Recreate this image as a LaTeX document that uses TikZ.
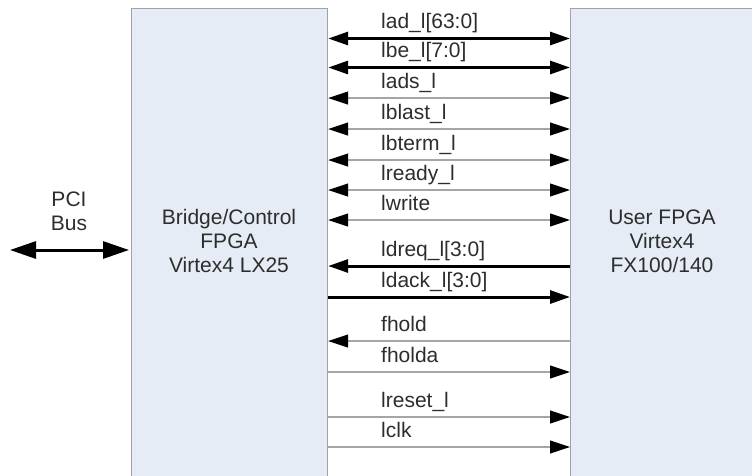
\documentclass[tikz,border=0pt]{standalone}
\usepackage{fontspec}
\setmainfont{Liberation Sans}
\usepackage{tikz}
\usetikzlibrary{arrows.meta}

\definecolor{boxfill}{RGB}{230,236,246}
\definecolor{boxline}{RGB}{160,162,168}
\definecolor{wiregray}{RGB}{165,165,165}
\definecolor{ink}{RGB}{45,45,45}

\tikzset{
    fpga/.style={draw=boxline, fill=boxfill, line width=1.2pt, inner sep=0pt},
    sig/.style={anchor=base west, inner sep=0pt, text=ink},
    words/.style={align=center, text=ink},
    slim/.style={draw=wiregray, line width=1.1pt},
    wide/.style={draw=black, line width=3pt}
}

\begin{document}
\begin{tikzpicture}[x=1pt, y=-1pt,
        >={Triangle[length=20pt,width=13pt,color=black]},
        font=\fontsize{21}{24}\selectfont]
        \useasboundingbox (0,0) rectangle (752,475);
        \clip (0,0) rectangle (752,475);

        % The two boxes
        \node[fpga, anchor=north west, minimum width=196pt, minimum height=500pt] (bridge) at (131,8) {};
        \node[fpga, anchor=north west, minimum width=220pt, minimum height=500pt] (user) at (570,8) {};

        % Box words
        \node[words] (bridgetxt) at (229,241) {Bridge/Control\\FPGA\\Virtex4 LX25};
        \node[words] (usertxt) at (662,241) {User FPGA\\Virtex4\\FX100/140};

        % The PCI bus
        \node[words] (pcitxt) at (69,211) {PCI\\Bus};
        \coordinate (pci) at (10,250);
        \draw[wide, <->, >={Triangle[length=26pt,width=17pt]}, shorten >=2pt] (pci) -- (bridge.west |- pci);

        % Wide lines, both ways
        \coordinate (lad) at (0,38.5);
        \coordinate (lbe) at (0,67.5);
        \draw[wide, <->] (bridge.east |- lad) -- (user.west |- lad);
        \draw[wide, <->] (bridge.east |- lbe) -- (user.west |- lbe);
        \node[sig] (ladtxt) at (381,28.5) {lad\_l[63:0]};
        \node[sig] (lbetxt) at (381,57.5) {lbe\_l[7:0]};

        % Slim lines, both ways
        \coordinate (lads) at (0,98);
        \coordinate (lblast) at (0,129);
        \coordinate (lbterm) at (0,160);
        \coordinate (lready) at (0,190);
        \coordinate (lwrite) at (0,220);
        \draw[slim, <->] (bridge.east |- lads) -- (user.west |- lads);
        \draw[slim, <->] (bridge.east |- lblast) -- (user.west |- lblast);
        \draw[slim, <->] (bridge.east |- lbterm) -- (user.west |- lbterm);
        \draw[slim, <->] (bridge.east |- lready) -- (user.west |- lready);
        \draw[slim, <->] (bridge.east |- lwrite) -- (user.west |- lwrite);
        \node[sig] (ladstxt) at (381,88) {lads\_l};
        \node[sig] (lblasttxt) at (381,119) {lblast\_l};
        \node[sig] (lbtermtxt) at (381,150) {lbterm\_l};
        \node[sig] (lreadytxt) at (381,180) {lready\_l};
        \node[sig] (lwritetxt) at (381,210) {lwrite};

        % Wide lines, one way
        \coordinate (ldreq) at (0,266);
        \coordinate (ldack) at (0,297);
        \draw[wide, <-] (bridge.east |- ldreq) -- (user.west |- ldreq);
        \draw[wide, ->] (bridge.east |- ldack) -- (user.west |- ldack);
        \node[sig] (ldreqtxt) at (381,256) {ldreq\_l[3:0]};
        \node[sig] (ldacktxt) at (381,287) {ldack\_l[3:0]};

        % Slim lines, one way
        \coordinate (fhold) at (0,341);
        \coordinate (fholda) at (0,372);
        \coordinate (lreset) at (0,417);
        \coordinate (lclk) at (0,447);
        \draw[slim, <-] (bridge.east |- fhold) -- (user.west |- fhold);
        \draw[slim, ->] (bridge.east |- fholda) -- (user.west |- fholda);
        \draw[slim, ->] (bridge.east |- lreset) -- (user.west |- lreset);
        \draw[slim, ->] (bridge.east |- lclk) -- (user.west |- lclk);
        \node[sig] (fholdtxt) at (381,331) {fhold};
        \node[sig] (fholdatxt) at (381,362) {fholda};
        \node[sig] (lresettxt) at (381,407) {lreset\_l};
        \node[sig] (lclktxt) at (381,437) {lclk};

    \end{tikzpicture}
\end{document}
